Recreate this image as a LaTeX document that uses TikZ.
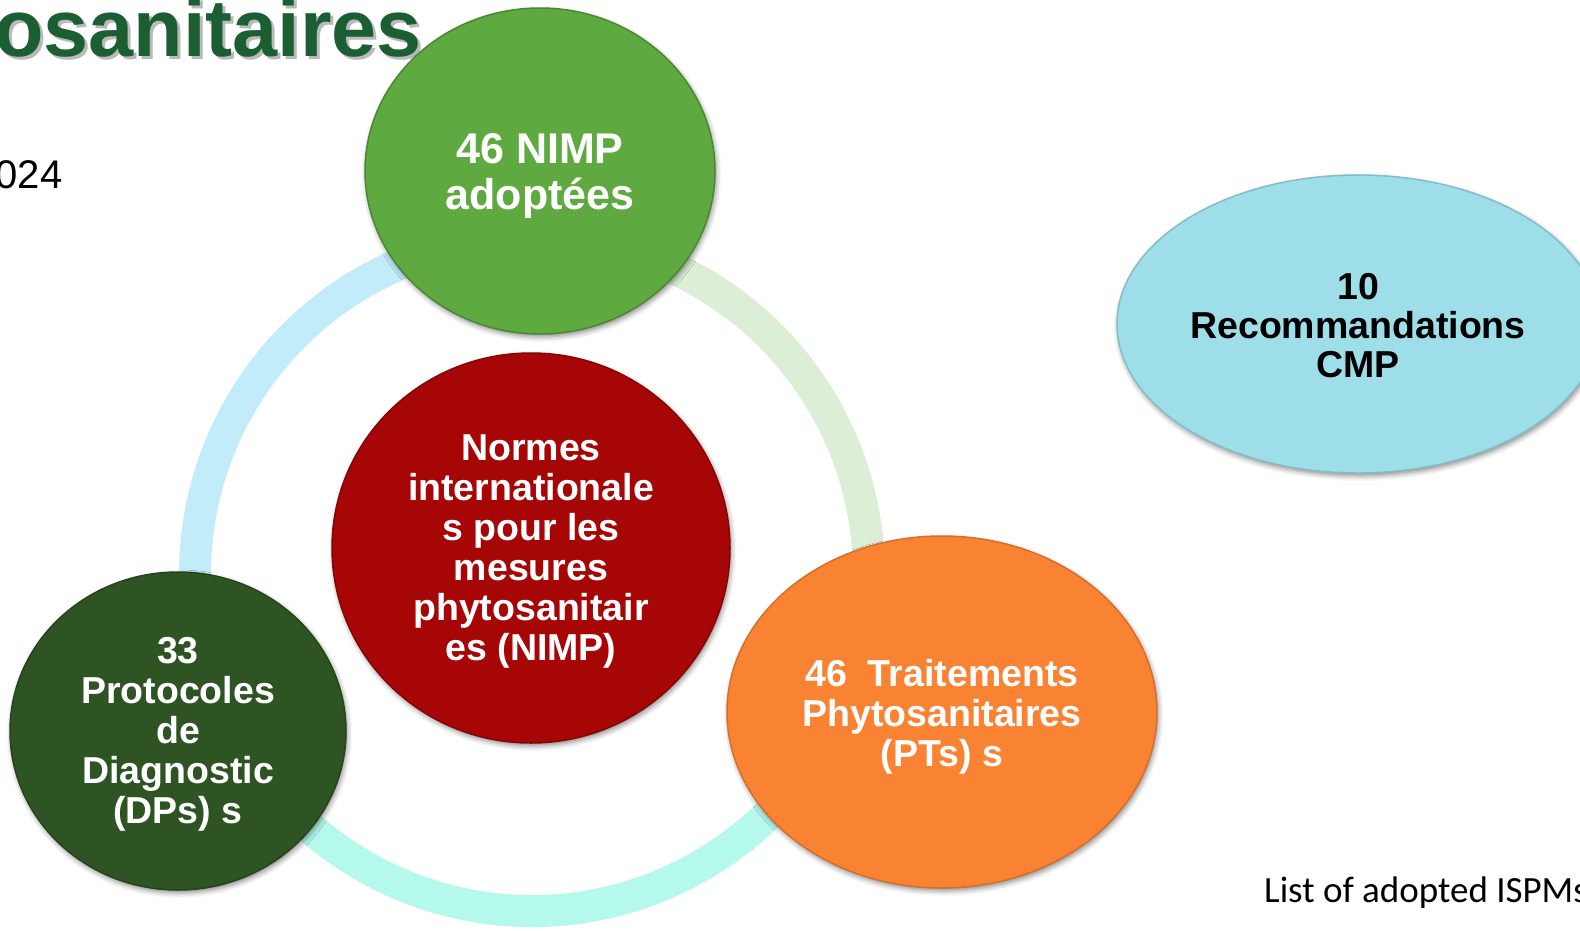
\documentclass[tikz,border=0pt]{standalone}
\usepackage{fontspec}
\setmainfont{Liberation Sans}
\newfontfamily\calfont{Carlito}
\usetikzlibrary{shapes.geometric,shadows.blur}
\definecolor{cGreen}{HTML}{5EA940}
\definecolor{cRed}{HTML}{A60606}
\definecolor{cDark}{HTML}{2F5423}
\definecolor{cOrange}{HTML}{F98332}
\definecolor{cCyan}{HTML}{9DDEE8}
\definecolor{cTitle}{HTML}{1A5E32}
\definecolor{rBlue}{HTML}{C2ECFA}
\definecolor{rLGreen}{HTML}{DCEFD6}
\definecolor{rMint}{HTML}{B5F8EC}
\begin{document}
\begin{tikzpicture}[x=1pt,y=-1pt,
  bubble/.style={ellipse, inner sep=0pt, line width=1.5pt,
    blur shadow={shadow xshift=1.5pt, shadow yshift=-3pt, shadow opacity=45, shadow blur radius=5pt}},
  bubbletext/.style={inner sep=0pt, align=center, text=white,
    font=\fontsize{37.5}{40}\selectfont\bfseries},
  ringarc/.style={line width=32pt}]
\useasboundingbox (0,0) rectangle (1580,930);
% title fragments
\node[anchor=base east, inner sep=0pt, text=black!45, opacity=0.6, font=\fontsize{81}{90}\selectfont\bfseries] (titleshadow) at (425,59) {osanitaires};
\node[anchor=base east, inner sep=0pt, text=cTitle, font=\fontsize{81}{90}\selectfont\bfseries] (title) at (422,56) {osanitaires};
\node[anchor=base east, inner sep=0pt, font=\fontsize{40}{44}\selectfont] (year) at (62.5,188) {024};
% ring
\coordinate (ctr) at (532,574);
\draw[ringarc, rBlue] ([shift={(156:337)}]ctr) arc[start angle=156, end angle=270, radius=337];
\draw[ringarc, rLGreen] ([shift={(-90:337)}]ctr) arc[start angle=-90, end angle=18.6, radius=337];
\draw[ringarc, rMint] ([shift={(18.6:337)}]ctr) arc[start angle=18.6, end angle=156, radius=337];
% bubbles
\node[bubble, fill=cGreen, draw=cGreen!80!black, minimum width=350pt, minimum height=326pt] (nimp) at (540,171) {};
\node[bubbletext, font=\fontsize{43}{46}\selectfont\bfseries] (nimpt) at ([yshift=-5pt]nimp.center) {46 NIMP\\adoptées};
\node[bubble, fill=cRed, draw=cRed!80!black, minimum width=398pt, minimum height=390pt] (norm) at (531,548) {};
\node[bubbletext] (normt) at ([yshift=-3pt]norm.center)
  {Normes\\internationale\\s pour les\\mesures\\phytosanitair\\es (NIMP)};
\node[bubble, fill=cDark, draw=cDark!80!black, minimum width=336pt, minimum height=318pt] (dp) at (178,731) {};
\node[bubbletext] (dpt) at ([yshift=-3pt]dp.center)
  {33\\Protocoles\\de\\Diagnostic\\(DPs) s};
\node[bubble, fill=cOrange, draw=cOrange!85!black, minimum width=430pt, minimum height=352pt] (pt) at (942,712) {};
\node[bubbletext] (ptt) at ([yshift=-5pt]pt.center)
  {46\ \ Traitements\\Phytosanitaires\\(PTs) s};
\node[bubble, fill=cCyan, draw=cCyan!85!black, minimum width=482pt, minimum height=298pt] (cmp) at (1358,324) {};
\node[bubbletext, text=black, font=\fontsize{37.5}{39}\selectfont\bfseries] (cmpt) at ([yshift=-2pt]cmp.center)
  {10\\Recommandations\\CMP};
% footer
\node[anchor=base west, inner sep=0pt, font=\calfont\fontsize{37}{40}\selectfont] (list) at (1264,902) {List of adopted ISPMs};
\end{tikzpicture}
\end{document}
